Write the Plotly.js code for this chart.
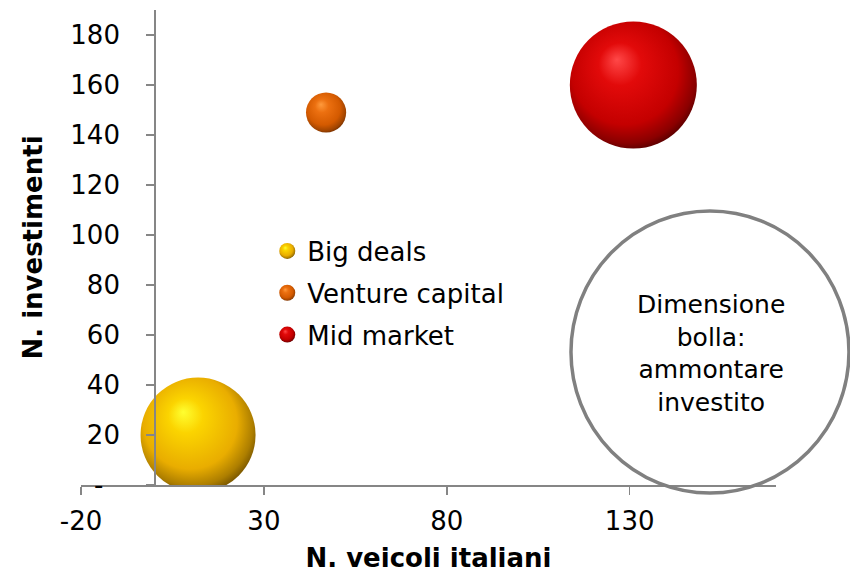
<!DOCTYPE html>
<html><head><meta charset="utf-8">
<script src="https://cdn.plot.ly/plotly-3.0.1.min.js"></script>
<style>html,body{margin:0;padding:0;background:#fff}#chart{width:850px;height:573px}</style>
</head><body><div id="chart"></div>
<script>
// ---- data ----
const categories = ['Big deals', 'Venture capital', 'Mid market'];
const veicoliItaliani = [12, 47, 131];          // x: N. veicoli italiani
const nInvestimenti = [20, 149, 160];           // y: N. investimenti
const ammontareInvestito = [1640, 200, 2000];   // bubble size (estimated)
const xTickVals = [-20, 30, 80, 130];
const xTickText = ['-20', '30', '80', '130'];
const yTickVals = [0, 20, 40, 60, 80, 100, 120, 140, 160, 180];
const yTickText = ['-\u00a0\u00a0', '20', '40', '60', '80', '100', '120', '140', '160', '180'];
const bubbleNote = 'Dimensione<br>bolla:<br>ammontare<br>investito';

// ---- styles ----
const sphereStyles = [
  {edge: '#6e4e00', center: '#ffff30', stops: [[0, '#ffff30'], [0.25, '#fbd400'], [0.68, '#e9ad00'], [0.88, '#ad7e00'], [1, '#6e4e00']]},
  {edge: '#6e2c00', center: '#ff9a3c', stops: [[0, '#ff9a3c'], [0.28, '#ec7010'], [0.7, '#d45a00'], [0.9, '#a04400'], [1, '#6e2c00']]},
  {edge: '#500000', center: '#ff4848', stops: [[0, '#ff4848'], [0.28, '#e20a0a'], [0.7, '#c40000'], [0.9, '#8a0000'], [1, '#500000']]}
];
const FONT = 'DejaVu Sans, Verdana, sans-serif';
const maxDiam = 127;
const sizeref = 2 * Math.max(...ammontareInvestito) / (maxDiam * maxDiam);

const traces = categories.map((name, i) => ({
  type: 'scatter', mode: 'markers', name: name, legendgroup: 'g' + i,
  x: [veicoliItaliani[i]], y: [nInvestimenti[i]],
  marker: {
    size: [ammontareInvestito[i]], sizemode: 'area', sizeref: sizeref, opacity: 1,
    color: sphereStyles[i].edge, line: {width: 0},
    gradient: {type: 'radial', color: sphereStyles[i].center}
  },
  hoverinfo: 'name+x+y'
}));

const layout = {
  width: 850, height: 573,
  margin: {l: 81, r: 74, t: 10, b: 88},
  paper_bgcolor: '#fff', plot_bgcolor: '#fff',
  font: {family: FONT, size: 26, color: '#000'},
  showlegend: true,
  legend: {x: 0.268, y: 0.542, xanchor: 'left', yanchor: 'top', bgcolor: 'rgba(0,0,0,0)',
           font: {family: FONT, size: 26, color: '#000'}, tracegroupgap: 5, traceorder: 'grouped'},
  xaxis: {
    range: [-20, 170], tickvals: xTickVals, ticktext: xTickText,
    showgrid: false, zeroline: false, showline: true, linecolor: '#868686', linewidth: 1.5,
    ticks: 'outside', ticklen: 8, tickcolor: '#868686', tickwidth: 1.5,
    ticklabelstandoff: 4,
    tickfont: {family: FONT, size: 26, color: '#000'},
    title: {text: '<b>N. veicoli italiani</b>', font: {family: FONT, size: 26, color: '#000'}, standoff: 24}
  },
  yaxis: {
    range: [0, 190], tickvals: yTickVals, ticktext: yTickText,
    anchor: 'free', position: 20 / 190,
    showgrid: false, zeroline: false, showline: true, linecolor: '#868686', linewidth: 1.5,
    ticks: 'outside', ticklen: 8, tickcolor: '#868686', tickwidth: 1.5,
    ticklabelstandoff: 21,
    tickfont: {family: FONT, size: 26, color: '#000'},
    title: {text: '<b>N. investimenti</b>', font: {family: FONT, size: 26, color: '#000'}, standoff: 18}
  },
  shapes: [{
    type: 'circle', xref: 'paper', yref: 'paper', layer: 'above',
    x0: 0.705, x1: 1.105, y0: -0.017, y1: 0.577,
    line: {color: '#808080', width: 3.5}, fillcolor: 'rgba(0,0,0,0)'
  }],
  annotations: [{
    xref: 'paper', yref: 'paper', x: 0.9065, y: 0.277, xanchor: 'center', yanchor: 'middle',
    text: bubbleNote, showarrow: false, align: 'center',
    font: {family: FONT, size: 25, color: '#000'}
  }]
};

function hexToRgb(h) { h = h.replace('#', ''); return [0, 2, 4].map(i => parseInt(h.substr(i, 2), 16)); }
function parseRgb(s) { const m = (s || '').match(/\d+(\.\d+)?/g); return m ? m.slice(0, 3).map(Number) : null; }
function applySpheres() {
  document.querySelectorAll('#chart radialGradient').forEach(g => {
    const stops = g.querySelectorAll('stop');
    if (!stops.length) return;
    const last = parseRgb(stops[stops.length - 1].getAttribute('stop-color'));
    const st = sphereStyles.find(s => { const c = hexToRgb(s.edge); return last && c.every((v, k) => Math.abs(v - last[k]) < 2); });
    if (!st) return;
    g.setAttribute('cx', '0.46'); g.setAttribute('cy', '0.43');
    g.setAttribute('r', '0.6');
    g.setAttribute('fx', '0.37'); g.setAttribute('fy', '0.3');
    stops.forEach(s => s.remove());
    st.stops.forEach(([o, c]) => {
      const e = document.createElementNS('http://www.w3.org/2000/svg', 'stop');
      e.setAttribute('offset', o); e.setAttribute('stop-color', c);
      g.appendChild(e);
    });
  });
}

const gd = document.getElementById('chart');
Plotly.newPlot(gd, traces, layout, {displayModeBar: false, staticPlot: true}).then(() => {
  applySpheres();
  gd.on('plotly_afterplot', applySpheres);
});
</script>
</body></html>
